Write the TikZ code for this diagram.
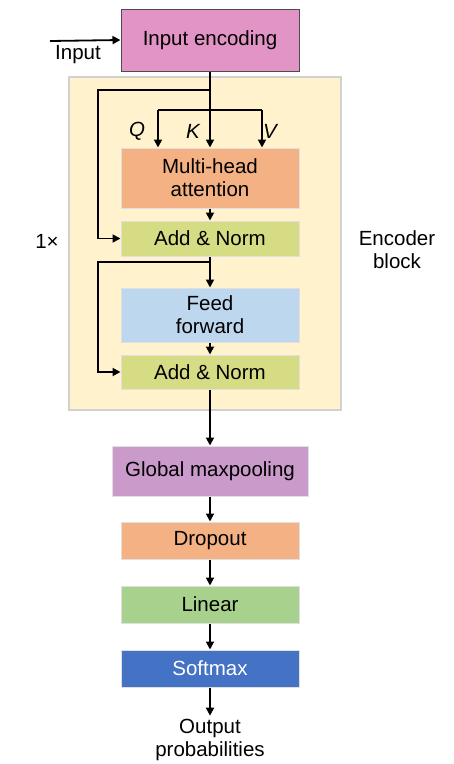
\documentclass[tikz,border=0pt]{standalone}
\usepackage{fontspec}
\setmainfont{Liberation Sans}
\usetikzlibrary{arrows.meta}

\definecolor{encpink}{HTML}{E194C5}
\definecolor{blockbg}{HTML}{FFF2CC}
\definecolor{attorange}{HTML}{F4B183}
\definecolor{normgreen}{HTML}{D6DC84}
\definecolor{ffblue}{HTML}{BDD7EE}
\definecolor{poolpurple}{HTML}{CA9ACB}
\definecolor{lingreen}{HTML}{A9D18E}
\definecolor{softblue}{HTML}{4472C4}

\begin{document}
\begin{tikzpicture}[x=1pt,y=-1pt,
  font=\fontsize{20.5}{23}\selectfont,
  box/.style={draw=black!12,line width=1pt,minimum width=178pt,align=center,inner sep=0pt},
  arr/.style={-{Triangle[length=8pt,width=8pt]},line width=1.8pt},
  line/.style={line width=1.8pt}]
\useasboundingbox (0,0) rectangle (454,764);

% Encoder block background
\draw[fill=blockbg,draw=black!18,line width=1.2pt] (69,77) rectangle (341,410);

% Boxes
\node[box,fill=encpink,draw=black!70,minimum height=62pt] (enc) at (210,40) {Input encoding};
\node[box,fill=attorange,minimum height=60pt] (mha) at (210,178) {Multi-head\\attention};
\node[box,fill=normgreen,minimum height=35pt] (an1) at (210,238.5) {Add \& Norm};
\node[box,fill=ffblue,minimum height=54pt] (ff) at (210,315) {Feed\\forward};
\node[box,fill=normgreen,minimum height=34pt] (an2) at (210,372) {Add \& Norm};
\node[box,fill=poolpurple,minimum width=196pt,minimum height=50pt] (gmp) at (210,471) {Global maxpooling};
\node[box,fill=attorange,minimum height=37pt] (drop) at (210,540.5) {Dropout};
\node[box,fill=lingreen,minimum height=37pt] (lin) at (210,604.5) {Linear};
\node[box,fill=softblue,minimum height=37pt,text=white] (soft) at (210,668.5) {Softmax};

% Labels
\node (inlabel) at (78,55) {Input};
\node[align=center] (outlabel) at (210,740) {Output\\probabilities};
\node (rep) at (47,241) {1×};
\node[align=center] (blocklabel) at (397,250) {Encoder\\block};
\node[font=\fontsize{20.5}{23}\selectfont\itshape] (qlab) at (137,131) {Q};
\node[font=\fontsize{20.5}{23}\selectfont\itshape] (klab) at (193,131) {K};
\node[font=\fontsize{20.5}{23}\selectfont\itshape] (vlab) at (270,131) {V};

% Input
\coordinate (instart) at (50,41);
\draw[arr] (instart) -- (enc.west);

% Q, K, V and first residual
\coordinate (res1) at (210,90);
\coordinate (res1l) at (98,90);
\coordinate (qkv) at (210,110);
\coordinate (qtop) at (158,110);
\coordinate (vtop) at (262,110);
\draw[arr] (enc.south) -- (mha.north);
\draw[line] (qtop) -- (vtop);
\draw[arr] (qtop) -- (qtop |- mha.north);
\draw[arr] (vtop) -- (vtop |- mha.north);
\draw[arr] (res1) -- (res1l) |- (an1.west);
\draw[arr] (mha.south) -- (an1.north);

% Feed forward and second residual
\coordinate (res2) at (210,262);
\coordinate (res2l) at (98,262);
\draw[arr] (an1.south) -- (ff.north);
\draw[arr] (res2) -- (res2l) |- (an2.west);
\draw[arr] (ff.south) -- (an2.north);

% Head
\draw[arr] (an2.south) -- (gmp.north);
\draw[arr] (gmp.south) -- (drop.north);
\draw[arr] (drop.south) -- (lin.north);
\draw[arr] (lin.south) -- (soft.north);
\draw[arr] (soft.south) -- (outlabel.north);

\end{tikzpicture}
\end{document}
